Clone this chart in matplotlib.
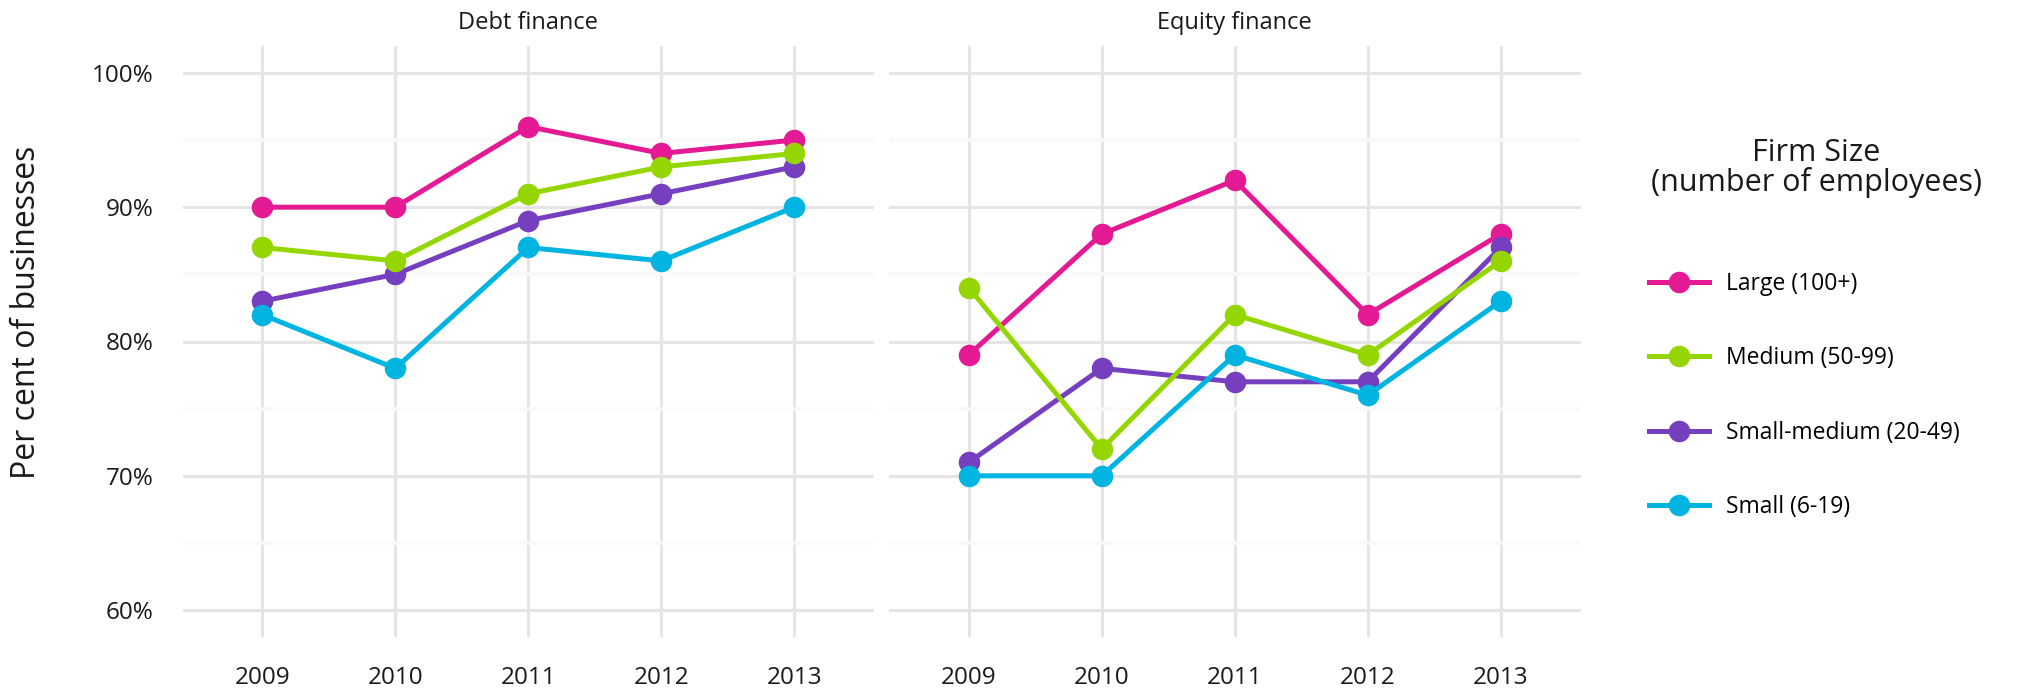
import numpy as np
import matplotlib
matplotlib.use('Agg')
import matplotlib.pyplot as plt
from matplotlib.lines import Line2D

plt.rcParams['font.family'] = ['Open Sans', 'DejaVu Sans']

years = [2009, 2010, 2011, 2012, 2013]
panels = ['Debt finance', 'Equity finance']
sizes = ['Large (100+)', 'Medium (50-99)', 'Small-medium (20-49)', 'Small (6-19)']

# per cent of businesses, one list per firm size
debt_large = [90, 90, 96, 94, 95]
debt_medium = [87, 86, 91, 93, 94]
debt_small_medium = [83, 85, 89, 91, 93]
debt_small = [82, 78, 87, 86, 90]

equity_large = [79, 88, 92, 82, 88]
equity_medium = [84, 72, 82, 79, 86]
equity_small_medium = [71, 78, 77, 77, 87]
equity_small = [70, 70, 79, 76, 83]

panel_data = {
    'Debt finance': [debt_large, debt_medium, debt_small_medium, debt_small],
    'Equity finance': [equity_large, equity_medium, equity_small_medium, equity_small],
}

colors = ['#E31A93', '#95D600', '#753FBF', '#00B4E1']
zorders = [3, 5, 4, 6]

W, H = 2017, 693
fig = plt.figure(figsize=(W / 100, H / 100), dpi=100)

ax_left = [182.5, 889]
ax_w = 691.5
top, bottom = 46, 637

grid_col = '#E5E5E5'
minor_col = '#F9F9F9'

for k, name in enumerate(panels):
    ax = fig.add_axes([ax_left[k] / W, 1 - bottom / H, ax_w / W, (bottom - top) / H])
    x = np.arange(len(years))
    for i, vals in enumerate(panel_data[name]):
        ax.plot(x, vals, color=colors[i], lw=3.6, marker='o', ms=14.5,
                solid_capstyle='butt', zorder=zorders[i], label=sizes[i])
    ax.set_xlim(-0.6, len(years) - 0.4)
    ax.set_ylim(58, 102)
    ax.set_yticks([60, 70, 80, 90, 100])
    ax.set_yticks([65, 75, 85, 95], minor=True)
    ax.set_xticks(x)
    ax.set_xticklabels([str(y) for y in years])
    if k == 0:
        ax.set_yticklabels(['60%', '70%', '80%', '90%', '100%'])
    else:
        ax.set_yticklabels([])
    ax.grid(True, which='major', color=grid_col, lw=2.2, zorder=0)
    ax.grid(True, which='minor', axis='y', color=minor_col, lw=2.6, zorder=0)
    ax.set_axisbelow(True)
    ax.tick_params(which='both', length=0, labelsize=17.5, pad=21, colors='#1a1a1a')
    for s in ax.spines.values():
        s.set_visible(False)
    fig.text((ax_left[k] + ax_w / 2) / W, 1 - 23 / H, name, ha='center', va='center',
             fontsize=17, color='#1a1a1a')

fig.text(26.5 / W, 1 - 312 / H, 'Per cent of businesses', rotation=90, ha='center',
         va='center', fontsize=23, color='#1a1a1a')

# legend
fig.text(1816 / W, 1 - 168 / H, 'Firm Size\n(number of employees)', ha='center',
         va='center', fontsize=22, linespacing=0.95, color='#1a1a1a')
handles = [Line2D([0], [0], color=c, lw=3.6, marker='o', ms=14.5) for c in colors]
fig.legend(handles, sizes, loc='upper left', bbox_to_anchor=(1649 / W, 1 - 272 / H),
           frameon=False, fontsize=16.5, borderpad=0, borderaxespad=0,
           handlelength=2.6, handletextpad=0.75, labelspacing=2.2)

fig.savefig('out.png', dpi=100)
